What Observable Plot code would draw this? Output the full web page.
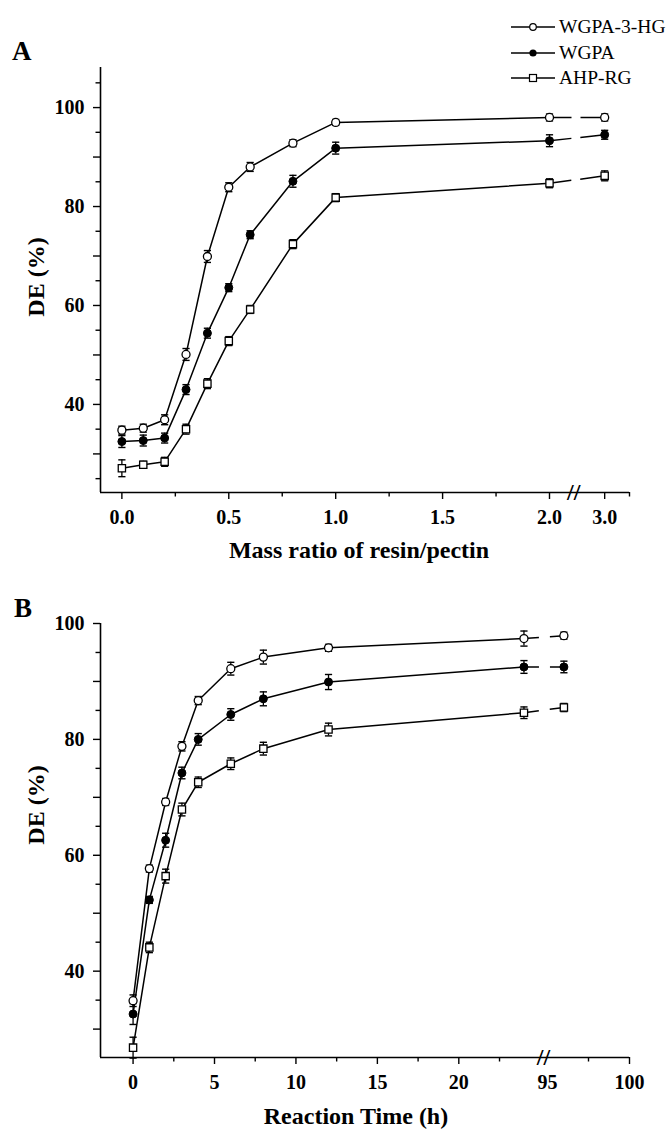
<!DOCTYPE html>
<html><head><meta charset="utf-8">
<script src="https://cdn.jsdelivr.net/npm/d3@7"></script>
<script src="https://cdn.jsdelivr.net/npm/@observablehq/plot@0.6"></script>
<style>
body{margin:0;background:#fff;}
#wrap{position:relative;width:671px;height:1131px;overflow:hidden;font-family:"Liberation Serif","Times New Roman",serif;color:#000;}
#wrap svg.plot{position:absolute;left:0;}
.lbl{position:absolute;line-height:1;white-space:nowrap;font-weight:bold;}
.panel{font-size:27px;}
.xt{font-size:24px;transform:translateX(-50%);}
.yt{font-size:24px;transform:translate(-50%,-50%) rotate(-90deg);}
.leg{position:absolute;left:511px;height:20px;display:flex;align-items:center;font-size:19.5px;line-height:20px;}
.leg span{margin-left:4px;}
</style></head>
<body><div id="wrap"></div>
<script>
// ---------- data ----------
const names = ["WGPA-3-HG", "WGPA", "AHP-RG"];

// Panel A: DE vs mass ratio of resin/pectin
const ratio   = [0, 0.1, 0.2, 0.3, 0.4, 0.5, 0.6, 0.8, 1.0, 2.0, 3.0];
const deA_HG  = [34.8, 35.2, 36.9, 50.1, 69.9, 83.9, 88.0, 92.8, 97.0, 98.0, 98.0];
const errA_HG = [0.8, 0.8, 1.0, 1.2, 1.2, 0.9, 0.9, 0.7, 0.6, 0.7, 0.7];
const deA_W   = [32.5, 32.7, 33.2, 43.0, 54.4, 63.6, 74.3, 85.1, 91.8, 93.3, 94.5];
const errA_W  = [1.2, 1.1, 1.0, 1.0, 1.0, 0.8, 0.8, 1.2, 1.2, 1.2, 0.9];
const deA_RG  = [27.1, 27.8, 28.4, 35.0, 44.2, 52.8, 59.2, 72.4, 81.8, 84.7, 86.2];
const errA_RG = [1.7, 0.7, 0.9, 1.0, 1.0, 0.9, 0.8, 0.9, 0.8, 0.9, 1.0];
const xTicksA = [0, 0.5, 1.0, 1.5, 2.0, 3.0];
const xMinorA = [0.25, 0.75, 1.25, 1.75, 3.45];
const xDomainA = [-0.1, 2.0, 3.45];
const breakA = 2.44;
const yDomainA = [22.2, 108.1];

// Panel B: DE vs reaction time
const hours   = [0, 1, 2, 3, 4, 6, 8, 12, 24, 96];
const deB_HG  = [34.9, 57.7, 69.2, 78.8, 86.7, 92.2, 94.2, 95.8, 97.4, 97.9];
const errB_HG = [1.0, 0.6, 0.6, 0.8, 0.7, 1.1, 1.2, 0.6, 1.3, 0.6];
const deB_W   = [32.6, 52.3, 62.6, 74.2, 80.0, 84.3, 87.0, 89.9, 92.5, 92.5];
const errB_W  = [1.8, 0.6, 1.2, 1.0, 1.0, 1.0, 1.2, 1.3, 1.1, 1.0];
const deB_RG  = [26.8, 44.1, 56.4, 67.9, 72.6, 75.8, 78.4, 81.7, 84.6, 85.5];
const errB_RG = [1.8, 0.9, 1.2, 1.1, 0.9, 1.0, 1.1, 1.1, 1.0, 0.7];
const xTicksB = [0, 5, 10, 15, 20, 95, 100];
const xTickLinesB = [0, 5, 10, 15, 20, 100];
const xMinorB = [2.5, 7.5, 12.5, 17.5, 22.5, 97.5];
const xDomainB = [-2, 25.2, 95, 100];
const breakB = 25.2;
const yDomainB = [25.1, 100];

const yMajor = [30, 40, 50, 60, 70, 80, 90, 100];
const yLabels = [40, 60, 80, 100];
const yMinorA = [25, 35, 45, 55, 65, 75, 85, 95, 105];
const yMinorB = [35, 45, 55, 65, 75, 85, 95];

// ---------- helpers ----------
const W = 671;
const hline = {draw(ctx, size) { const r = Math.sqrt(size / Math.PI); ctx.moveTo(-r, 0); ctx.lineTo(r, 0); }};
const FONT = '"Liberation Serif", "Times New Roman", serif';

function series(xs, ys, es, name) { return xs.map((x, i) => ({x, y: ys[i], e: es[i], s: name})); }

function panel(o) {
  const all = o.series.flat();
  const solid = o.series.flatMap(r => r.slice(0, r.length - 1));
  const links = o.series.map(r => ({x1: r[r.length - 2].x, y1: r[r.length - 2].y, x2: r[r.length - 1].x, y2: r[r.length - 1].y}));
  const bySeries = k => all.filter(d => d.s === names[k]);
  const svg = Plot.plot({
    width: W, height: o.height,
    marginLeft: o.xRange[0], marginRight: W - o.xRange[o.xRange.length - 1],
    marginTop: o.marginTop, marginBottom: o.marginBottom,
    style: {fontFamily: FONT, fontSize: "20px", fontWeight: "bold", color: "black", background: "transparent", overflow: "visible"},
    x: {type: "linear", domain: o.xDomain, range: o.xRange},
    y: {type: "linear", domain: o.yDomain},
    marks: [
      Plot.axisY({ticks: yMajor, tickSize: 7, tickPadding: 9, strokeWidth: 1.4, label: null,
                  tickFormat: d => yLabels.includes(d) ? String(d) : ""}),
      Plot.axisY({ticks: o.yMinor, tickSize: 4.5, strokeWidth: 1.4, label: null, tickFormat: () => ""}),
      Plot.axisX({ticks: o.xTickLines, tickSize: 7, strokeWidth: 1.4, label: null, tickFormat: () => ""}),
      Plot.axisX({ticks: o.xTicks, tickSize: 0, tickPadding: 17, label: null, tickFormat: o.fmt}),
      Plot.axisX({ticks: o.xMinor, tickSize: 4.5, strokeWidth: 1.4, label: null, tickFormat: () => ""}),
      Plot.ruleX([o.xDomain[0]], {stroke: "black", strokeWidth: 1.6}),
      Plot.ruleY([o.yDomain[0]], {stroke: "black", strokeWidth: 1.6}),
      Plot.text([o.breakX], {x: d => d, y: () => o.yDomain[0], text: () => "//", fontSize: 24, fontWeight: "bold", fill: "black"}),
      Plot.ruleX(all, {x: "x", y1: d => d.y - d.e, y2: d => d.y + d.e, stroke: "black", strokeWidth: 1.3}),
      Plot.dot(all, {x: "x", y: d => d.y - d.e, symbol: hline, r: 3.6, stroke: "black", strokeWidth: 1.4}),
      Plot.dot(all, {x: "x", y: d => d.y + d.e, symbol: hline, r: 3.6, stroke: "black", strokeWidth: 1.4}),
      Plot.line(solid, {x: "x", y: "y", z: "s", stroke: "black", strokeWidth: 1.5}),
      Plot.link(links, {x1: "x1", y1: "y1", x2: "x2", y2: "y2", stroke: "black", strokeWidth: 1.5, strokeDasharray: o.dash}),
      Plot.dot(bySeries(0), {x: "x", y: "y", symbol: "circle", r: 4, fill: "white", stroke: "black", strokeWidth: 1.3}),
      Plot.dot(bySeries(1), {x: "x", y: "y", symbol: "circle", r: 4, fill: "black", stroke: "black", strokeWidth: 1}),
      Plot.dot(bySeries(2), {x: "x", y: "y", symbol: "square", r: 4.1, fill: "white", stroke: "black", strokeWidth: 1.3})
    ]
  });
  svg.classList.add("plot");
  svg.style.top = o.top + "px";
  return svg;
}

const wrap = document.getElementById("wrap");

wrap.appendChild(panel({
  top: 0, height: 530, marginTop: 67, marginBottom: 38,
  xDomain: xDomainA, xRange: [100, 549, 629], yDomain: yDomainA,
  series: [series(ratio, deA_HG, errA_HG, names[0]), series(ratio, deA_W, errA_W, names[1]), series(ratio, deA_RG, errA_RG, names[2])],
  xTicks: xTicksA, xTickLines: xTicksA, xMinor: xMinorA, yMinor: yMinorA,
  fmt: d => d.toFixed(1), breakX: breakA, dash: "22,9,40"
}));

wrap.appendChild(panel({
  top: 575, height: 520, marginTop: 48, marginBottom: 38,
  xDomain: xDomainB, xRange: [100, 543, 547, 629], yDomain: yDomainB,
  series: [series(hours, deB_HG, errB_HG, names[0]), series(hours, deB_W, errB_W, names[1]), series(hours, deB_RG, errB_RG, names[2])],
  xTicks: xTicksB, xTickLines: xTickLinesB, xMinor: xMinorB, yMinor: yMinorB,
  fmt: d => String(d), breakX: breakB, dash: "15,11,30"
}));

// ---------- text: panel letters, axis titles ----------
function label(cls, text, left, top) {
  const d = document.createElement("div");
  d.className = "lbl " + cls; d.textContent = text;
  d.style.left = left + "px"; d.style.top = top + "px";
  wrap.appendChild(d);
}
label("panel", "A", 12, 37.5);
label("panel", "B", 14, 594.5);
label("xt", "Mass ratio of resin/pectin", 359, 538);
label("xt", "Reaction Time (h)", 356, 1104);
label("yt", "DE (%)", 36, 277);
label("yt", "DE (%)", 36, 805);

// ---------- legend ----------
const legendRows = [
  {name: names[0], cy: 26.7, sym: '<circle cx="22" cy="10" r="3.3" fill="white" stroke="black" stroke-width="1.2"/>'},
  {name: names[1], cy: 53.3, sym: '<circle cx="22" cy="10" r="3.6" fill="black"/>'},
  {name: names[2], cy: 77.5, sym: '<rect x="18.5" y="6.5" width="7" height="7" fill="white" stroke="black" stroke-width="1.2"/>'}
];
for (const r of legendRows) {
  const d = document.createElement("div");
  d.className = "leg";
  d.style.top = (r.cy - 10) + "px";
  d.innerHTML = '<svg width="44" height="20"><line x1="0" y1="10" x2="44" y2="10" stroke="black" stroke-width="1.5"/>' + r.sym + '</svg><span></span>';
  d.querySelector("span").textContent = r.name;
  wrap.appendChild(d);
}
</script>
</body></html>
